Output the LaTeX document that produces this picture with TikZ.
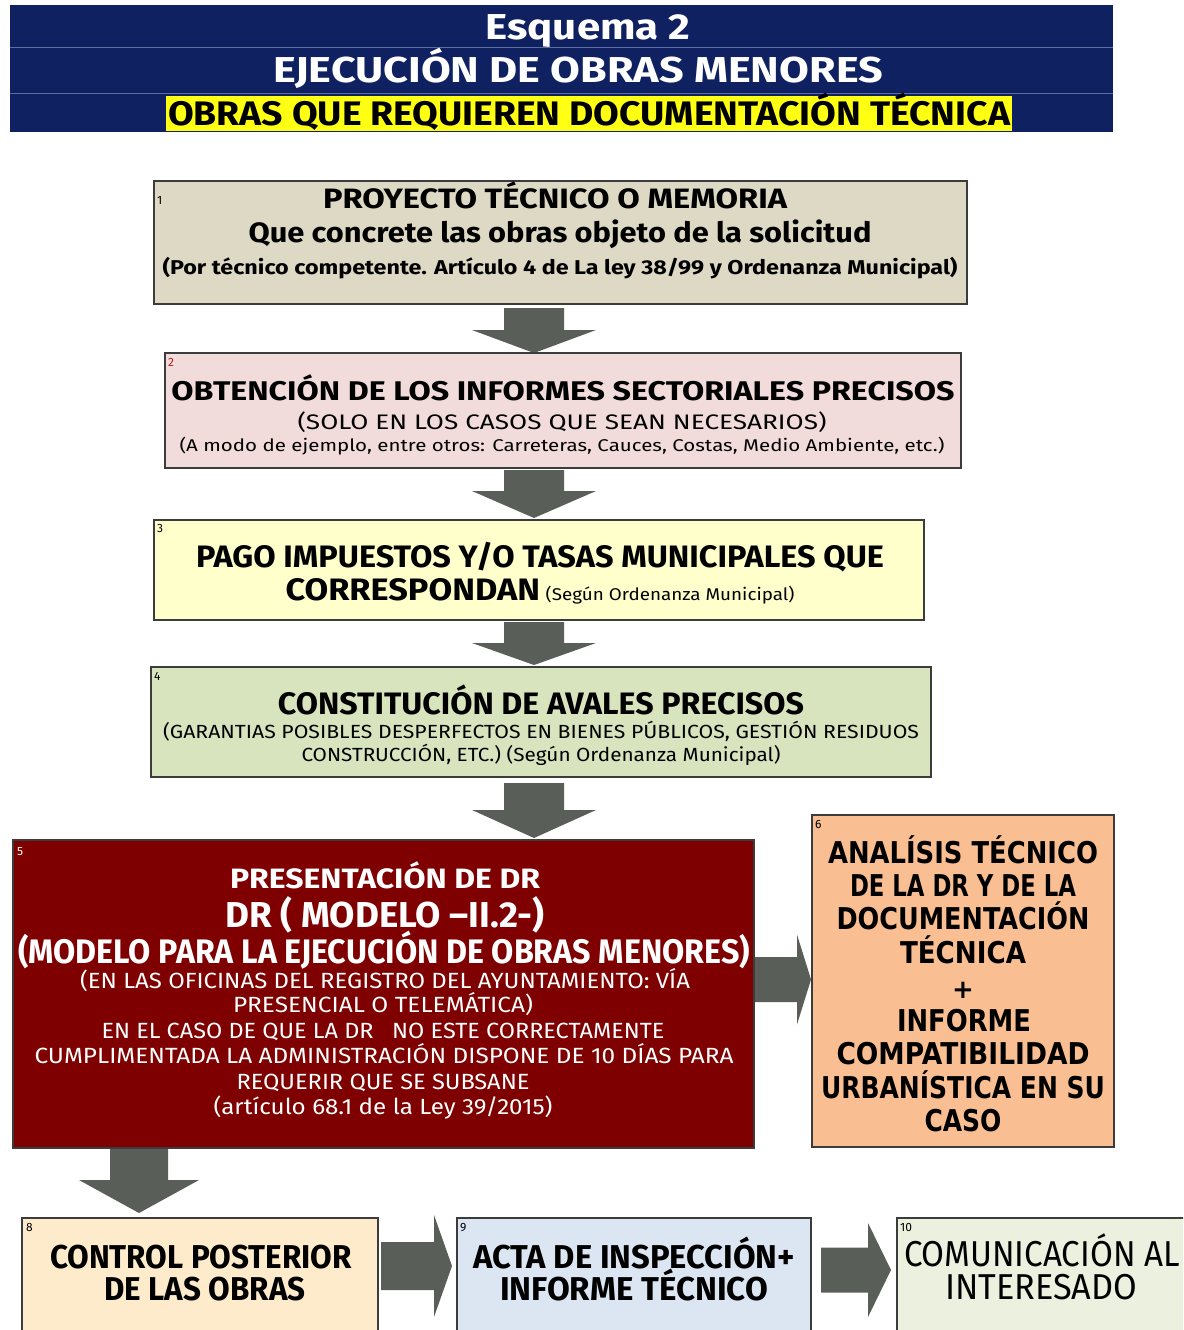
\documentclass[tikz,border=0pt]{standalone}
\usepackage{fontspec}
\setmainfont{Fira Sans}
\newfontfamily\widefont{DejaVu Sans}
\usepackage{graphicx}
\definecolor{navy}{RGB}{15,33,97}
\definecolor{hline}{RGB}{90,110,160}
\definecolor{hyellow}{RGB}{255,255,20}
\definecolor{arrowc}{RGB}{90,94,88}
\definecolor{bordc}{RGB}{60,60,60}
\definecolor{cA}{RGB}{221,217,196}
\definecolor{cB}{RGB}{242,220,219}
\definecolor{cC}{RGB}{255,255,204}
\definecolor{cD}{RGB}{215,228,189}
\definecolor{cE}{RGB}{127,0,0}
\definecolor{cF}{RGB}{249,190,145}
\definecolor{cG}{RGB}{253,235,203}
\definecolor{cH}{RGB}{220,230,242}
\definecolor{cI}{RGB}{235,241,222}
\definecolor{numred}{RGB}{180,30,30}
\newsavebox\fitbox
\newdimen\fitdim
\newcommand\fitto[2]{\sbox\fitbox{#2}\fitdim=\wd\fitbox\pgfmathsetmacro\fitsc{#1/\fitdim}\scalebox{\fitsc}[1]{\usebox\fitbox}}
\newcommand\txtline[7]{\node[anchor=base,inner sep=0pt,outer sep=0pt,#6] (#1) at ({#2},{#3+0.345*#5}) {\fontsize{#5}{#5}\selectfont\fitto{#4}{#7}};}
\newcommand\downarr[6]{\fill[arrowc] ({#1-#5},{#2}) -- ({#1+#5},{#2}) -- ({#1+#5},{#3}) -- ({#1+#6},{#3}) -- ({#1},{#4}) -- ({#1-#6},{#3}) -- ({#1-#5},{#3}) -- cycle;}
\newcommand\rightarr[6]{\fill[arrowc] ({#2},{#1-#5}) -- ({#2},{#1+#5}) -- ({#3},{#1+#5}) -- ({#3},{#1+#6}) -- ({#4},{#1}) -- ({#3},{#1-#6}) -- ({#3},{#1-#5}) -- cycle;}
\begin{document}
\begin{tikzpicture}[x=1pt,y=-1pt,
  box/.style={draw=bordc,line width=1.5pt,inner sep=0pt,outer sep=0pt},
  numlbl/.style={inner sep=0pt,font=\fontsize{12}{12}\selectfont,text=black}]
\useasboundingbox (0,0) rectangle (1183,1330);
\clip (0,0) rectangle (1183,1330);
\fill[white] (0,0) rectangle (1183,1330);
% header
\node[fill=navy,inner sep=0pt,minimum width=1103pt,minimum height=127pt] (hdr) at (561.5,68.5) {};
\draw[hline,line width=1pt] (hdr.west |- 0,48) -- (hdr.east |- 0,48);
\draw[hline,line width=1pt] (hdr.west |- 0,93) -- (hdr.east |- 0,93);
\fill[hyellow] (166,96) rectangle (1012,131);
\txtline{h1}{588}{27}{205}{36}{text=white,font=\bfseries}{Esquema 2}
\txtline{h2}{578}{70}{610}{36}{text=white,font=\bfseries}{EJECUCIÓN DE OBRAS MENORES}
\txtline{h3}{589}{114}{842}{34}{text=black,font=\bfseries}{OBRAS QUE REQUIEREN DOCUMENTACIÓN TÉCNICA}
% arrows
\downarr{534}{308}{330}{353}{30}{62}
\downarr{534}{470}{491}{518}{30}{62}
\downarr{534}{622}{643}{665}{30}{62}
\downarr{534}{783}{810}{838}{30}{62}
\downarr{139}{1148}{1180}{1213}{29}{60}
\rightarr{979.5}{750}{797}{811}{22.5}{45}
\rightarr{1266}{381}{434}{452}{24}{51}
\rightarr{1270}{821}{868}{891}{22.5}{47}
% boxes
\node[box,fill=cA,minimum width=813pt,minimum height=123pt] (b1) at (560.5,242.5) {};
\node[box,fill=cB,minimum width=796pt,minimum height=115pt] (b2) at (563,410.5) {};
\node[box,fill=cC,minimum width=770pt,minimum height=100pt] (b3) at (539,570) {};
\node[box,fill=cD,minimum width=780pt,minimum height=110pt] (b4) at (541,722) {};
\node[box,fill=cE,minimum width=741pt,minimum height=308pt] (b5) at (383.5,994) {};
\node[box,fill=cF,minimum width=302pt,minimum height=332pt] (b6) at (963,981) {};
\node[box,fill=cG,minimum width=356pt,minimum height=127pt] (b7) at (200,1281.5) {};
\node[box,fill=cH,minimum width=354pt,minimum height=127pt] (b8) at (634,1281.5) {};
\node[box,fill=cI,minimum width=303pt,minimum height=127pt] (b9) at (1048.5,1281.5) {};
% number labels
\node[numlbl,anchor=north west] (n1) at (157,196) {1};
\node[numlbl,anchor=north west,text=numred] (n2) at (168,358) {2};
\node[numlbl,anchor=north west] (n3) at (157,524) {3};
\node[numlbl,anchor=north west] (n4) at (154,672) {4};
\node[numlbl,anchor=north west,text=white] (n5) at (17,847) {5};
\node[numlbl,anchor=north west] (n6) at (815,820) {6};
\node[numlbl,anchor=north west] (n8) at (26,1223) {8};
\node[numlbl,anchor=north west] (n9) at (460,1223) {9};
\node[numlbl,anchor=north west] (n10) at (900,1223) {10};
% box 1
\txtline{t1a}{555}{199}{464}{28}{font=\bfseries}{PROYECTO TÉCNICO O MEMORIA}
\txtline{t1b}{560}{233}{623}{28}{font=\bfseries}{Que concrete las obras objeto de la solicitud}
\txtline{t1c}{560}{268}{795}{20}{font=\bfseries}{(Por técnico competente. Artículo 4 de La ley 38/99 y Ordenanza Municipal)}
% box 2
\txtline{t2a}{563}{391}{783}{27}{font=\bfseries}{OBTENCIÓN DE LOS INFORMES SECTORIALES PRECISOS}
\txtline{t2b}{562}{422}{529}{21}{}{(SOLO EN LOS CASOS QUE SEAN NECESARIOS)}
\txtline{t2c}{562}{446}{765}{17}{}{(A modo de ejemplo, entre otros: Carreteras, Cauces, Costas, Medio Ambiente, etc.)}
% box 3
\txtline{t3a}{540}{557}{688}{31}{font=\bfseries}{PAGO IMPUESTOS Y/O TASAS MUNICIPALES QUE}
\txtline{t3b}{540}{590}{509}{31}{font=\bfseries}{CORRESPONDAN\,{\fontsize{17}{17}\selectfont\mdseries(Según Ordenanza Municipal)}}
% box 4
\txtline{t4a}{541}{704}{526}{31}{font=\bfseries}{CONSTITUCIÓN DE AVALES PRECISOS}
\txtline{t4b}{541}{732}{756}{19}{}{(GARANTIAS POSIBLES DESPERFECTOS EN BIENES PÚBLICOS, GESTIÓN RESIDUOS}
\txtline{t4c}{541}{755}{479}{19}{}{CONSTRUCCIÓN, ETC.) (Según Ordenanza Municipal)}
% box 5
\txtline{t5a}{385}{879}{310}{28}{text=white,font=\bfseries}{PRESENTACIÓN DE DR}
\txtline{t5b}{385}{915}{319}{36}{text=white,font=\bfseries}{DR ( MODELO –II.2-)}
\txtline{t5c}{384}{952}{732}{34}{text=white,font=\bfseries}{(MODELO PARA LA EJECUCIÓN DE OBRAS MENORES)}
\txtline{t5d}{385}{981}{610}{22}{text=white}{(EN LAS OFICINAS DEL REGISTRO DEL AYUNTAMIENTO: VÍA}
\txtline{t5e}{383}{1005}{300}{22}{text=white}{PRESENCIAL O TELEMÁTICA)}
\txtline{t5f}{383}{1031}{563}{22}{text=white}{EN EL CASO DE QUE LA DR \ \ NO ESTE CORRECTAMENTE}
\txtline{t5g}{384}{1056}{699}{22}{text=white}{CUMPLIMENTADA LA ADMINISTRACIÓN DISPONE DE 10 DÍAS PARA}
\txtline{t5h}{383}{1082}{293}{22}{text=white}{REQUERIR QUE SE SUBSANE}
\txtline{t5i}{383}{1107}{339}{22}{text=white}{(artículo 68.1 de la Ley 39/2015)}
% box 6
\txtline{t6a}{963}{853}{270}{30}{font=\widefont\bfseries}{ANALÍSIS TÉCNICO}
\txtline{t6b}{963}{886}{226}{30}{font=\widefont\bfseries}{DE LA DR Y DE LA}
\txtline{t6c}{963}{919}{253}{30}{font=\widefont\bfseries}{DOCUMENTACIÓN}
\txtline{t6d}{963}{953}{126}{30}{font=\widefont\bfseries}{TÉCNICA}
\node[anchor=base,inner sep=0pt,font=\widefont\bfseries\fontsize{26}{26}\selectfont] (t6e) at (963,998) {+};
\txtline{t6f}{964}{1021}{134}{30}{font=\widefont\bfseries}{INFORME}
\txtline{t6g}{963}{1054}{253}{30}{font=\widefont\bfseries}{COMPATIBILIDAD}
\txtline{t6h}{963}{1088}{284}{30}{font=\widefont\bfseries}{URBANÍSTICA EN SU}
\txtline{t6i}{963}{1121}{77}{30}{font=\widefont\bfseries}{CASO}
% bottom boxes
\txtline{t7a}{201}{1257}{302}{33}{font=\bfseries}{CONTROL POSTERIOR}
\txtline{t7b}{205}{1289}{201}{33}{font=\bfseries}{DE LAS OBRAS}
\txtline{t8a}{634}{1257}{322}{33}{font=\bfseries}{ACTA DE INSPECCIÓN+}
\txtline{t8b}{634}{1289}{268}{33}{font=\bfseries}{INFORME TÉCNICO}
\txtline{t9a}{1042}{1254}{276}{36}{}{COMUNICACIÓN AL}
\txtline{t9b}{1041}{1287}{192}{36}{}{INTERESADO}
\end{tikzpicture}
\end{document}
